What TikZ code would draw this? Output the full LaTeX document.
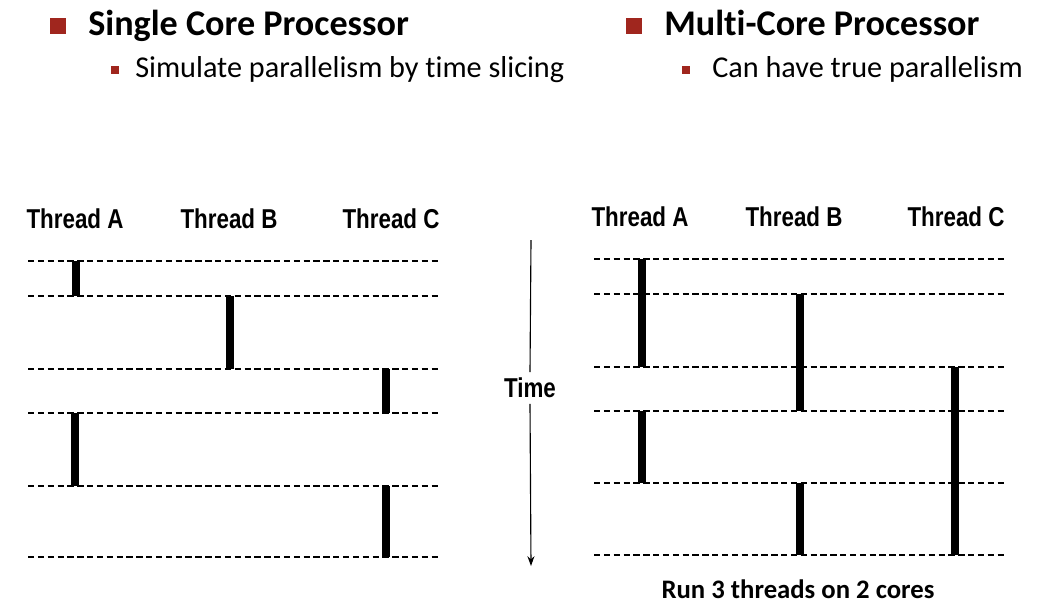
\documentclass[tikz,border=0pt]{standalone}
\usepackage{fontspec}
\setmainfont{Carlito}[Ligatures=NoCommon]
\newfontfamily\narrowfont{Liberation Sans}[FakeStretch=0.82]
\usetikzlibrary{arrows.meta,positioning}
\definecolor{bulletred}{RGB}{160,38,30}

\begin{document}
\begin{tikzpicture}[
    x=0.025cm, y=-0.025cm,
    heading/.style={anchor=base west, inner sep=0, font=\fontsize{25.7}{30}\selectfont\bfseries},
    subheading/.style={anchor=base west, inner sep=0, font=\fontsize{21.5}{25}\selectfont},
    bigbullet/.style={fill=bulletred, minimum size=11pt, inner sep=0},
    smallbullet/.style={fill=bulletred, minimum size=6.3pt, inner sep=0},
    threadlabel/.style={inner sep=0, font=\narrowfont\bfseries\fontsize{19.4}{23}\selectfont},
    slot/.style={dash pattern=on 4.5pt off 2.5pt, line width=0.9pt},
    run/.style={line width=5.6pt}
]
    \useasboundingbox (0,0) rectangle (1045,614);

    % Headings
    \node[bigbullet] (bsingle) at (58,26) {};
    \node[heading] (single) at (88,35) {Single Core Processor};
    \node[smallbullet] (bslice) at (115,70) {};
    \node[subheading] (slice) at (135,77) {Simulate parallelism by time slicing};
    \node[bigbullet] (bmulti) at (634,26) {};
    \node[heading] (multi) at (664,35) {Multi-Core Processor};
    \node[smallbullet] (btrue) at (686,70) {};
    \node[subheading] (true) at (712,77) {Can have true parallelism};

    % Single core
    \node[threadlabel] (sa) at (75,219) {Thread A};
    \node[threadlabel] (sb) at (229,219) {Thread B};
    \node[threadlabel] (sc) at (391,219) {Thread C};
    \foreach \y in {261,296,369,413,486,557}
        \draw[slot] (28,\y) -- (441,\y);
    \foreach \x/\a/\b in {76/261/296, 230/296/369, 386/369/413, 75/413/486, 386/486/557}
        \draw[run] (\x,\a) -- (\x,\b);

    % Time axis
    \node[threadlabel, inner sep=4pt] (time) at (530,388) {Time};
    \coordinate (ttop) at (531,240);
    \coordinate (tbot) at (531,566);
    \draw[line width=0.8pt] (ttop) -- (time.north);
    \draw[line width=0.8pt, -{Stealth[length=7pt, width=5pt]}] (time.south) -- (tbot);

    % Multi core
    \node[threadlabel] (ma) at (640,217) {Thread A};
    \node[threadlabel] (mb) at (794,217) {Thread B};
    \node[threadlabel] (mc) at (956,217) {Thread C};
    \foreach \y in {259,294,367,411,483,555}
        \draw[slot] (594,\y) -- (1005,\y);
    \foreach \x/\a/\b in {642/259/367, 642/411/483, 800/294/411, 800/483/555, 955/367/555}
        \draw[run] (\x,\a) -- (\x,\b);
    \node[font=\fontsize{19}{22}\selectfont\bfseries] (cores) at (798,589) {Run 3 threads on 2 cores};
\end{tikzpicture}
\end{document}
